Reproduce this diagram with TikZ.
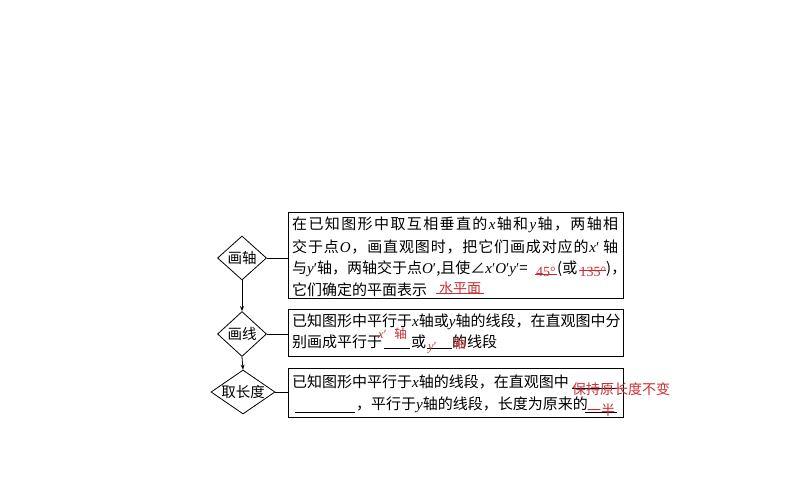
\documentclass[tikz,border=0pt]{standalone}
\usepackage{fontspec}
\setmainfont{Noto Sans CJK SC}
\newfontfamily\lat{Liberation Serif}
\usetikzlibrary{shapes.geometric,arrows.meta}
\newcommand{\vx}[1]{{\lat\itshape #1}}
\ExplSyntaxOn
\NewDocumentCommand\spreadline{mm}{\makebox[#1][s]{\tl_map_inline:nn{#2}{##1\hfil}\unskip}}
\ExplSyntaxOff
\definecolor{ansred}{RGB}{200,45,50}
\begin{document}
\begin{tikzpicture}[x=1pt,y=-1pt,
 dia/.style={diamond,draw,line width=0.8pt,inner sep=0pt,minimum width=49pt,minimum height=44pt},
 dlab/.style={font=\fontsize{14.5}{16}\selectfont},
 box/.style={draw,line width=1pt,inner sep=0pt,minimum width=335pt},
 txt/.style={anchor=west,inner sep=0pt,font=\fontsize{15}{18}\selectfont},
 ans/.style={inner sep=0pt,text=ansred,font=\fontsize{14}{16}\selectfont},
 anss/.style={inner sep=0pt,text=ansred,font=\fontsize{12.5}{14}\selectfont},
 ansl/.style={inner sep=0pt,text=ansred,font=\lat\fontsize{14}{16}\selectfont},
 blank/.style={line width=0.7pt},
 conn/.style={line width=0.8pt},
 arr/.style={conn,-{Stealth[length=5pt,width=4pt]}}]
\useasboundingbox (0,0) rectangle (794,495);
% boxes
\node[box,minimum height=86pt] (b1) at (455.5,255) {};
\node[box,minimum height=47pt] (b2) at (455.5,332.5) {};
\node[box,minimum height=49pt] (b3) at (455.5,392.5) {};
% diamonds
\node[dia,label={[dlab]center:画轴}] (d1) at (242,258) {};
\node[dia,minimum height=45pt,label={[dlab]center:画线}] (d2) at (242,334) {};
\node[dia,minimum width=64pt,label={[dlab]center:取长度}] (d3) at (243,392) {};
% connectors
\draw[conn] (d1.east) -- (d1.east -| b1.west);
\draw[conn] (d2.east) -- (d2.east -| b2.west);
\draw[conn] (d3.east) -- (d3.east -| b3.west);
\draw[arr] (d1.south) -- (d2.north);
\draw[arr] (d2.south) -- (d3.north);
% box 1
\node[txt] (t11) at (292,225) {\spreadline{326pt}{在已知图形中取互相垂直的{\vx{x}}轴和{\vx{y}}轴，两轴相}};
\node[txt] (t12) at (292,247) {\spreadline{326pt}{交于点{\vx{O}}，画直观图时，把它们画成对应的{\vx{x}{\lat′}\kern3pt}轴}};
\node[txt] (t13) at (292,269) {与\vx{y}{\lat′}轴，两轴交于点\vx{O}{\lat′},且使∠\vx{x}{\lat′}\vx{O}{\lat′}\vx{y}{\lat′}=};
\node[txt] (t13b) at (557,269) {(或};
\node[txt] (t13c) at (606,269) {)，};
\node[txt] (t14) at (292,290) {它们确定的平面表示};
\node[ansl] (a1) at (546,272) {45°};
\draw[blank,ansred] (535,274.5) -- (557,274.5);
\node[ansl] (a2) at (593,272) {135°};
\draw[blank,ansred] (579,270.5) -- (606,270.5);
\node[ans] (a3) at (460,288) {水平面};
\draw[blank,ansred] (436,293.5) -- (484,293.5);
% box 2
\node[txt] (t21) at (292,322) {已知图形中平行于\vx{x}轴或\vx{y}轴的线段，在直观图中分};
\node[txt] (t22) at (292,342) {别画成平行于};
\node[txt] (t22b) at (411,342) {或};
\node[txt] (t22c) at (452,342) {的线段};
\draw[blank] (384,348) -- (410,348);
\draw[blank] (427,348) -- (452,348);
\node[anss,anchor=west] (a4) at (378,334) {\vx{x}{\lat′}\kern8pt 轴};
\node[anss,anchor=west] (a5) at (428,348) {\vx{y}{\lat′}};
\node[anss,anchor=west] (a6) at (453,344) {轴};
% box 3
\node[txt] (t31) at (292,382) {已知图形中平行于\vx{x}轴的线段，在直观图中};
\draw[blank] (572,388) -- (617,388);
\node[ans,anchor=west] (a7) at (572,389) {保持原长度不变};
\node[txt] (t32) at (356,405) {，平行于\vx{y}轴的线段，长度为原来的};
\draw[blank] (295,412) -- (355,412);
\draw[blank] (585,412) -- (617,412);
\node[ans] (a8) at (601,410) {一半};
\end{tikzpicture}
\end{document}
